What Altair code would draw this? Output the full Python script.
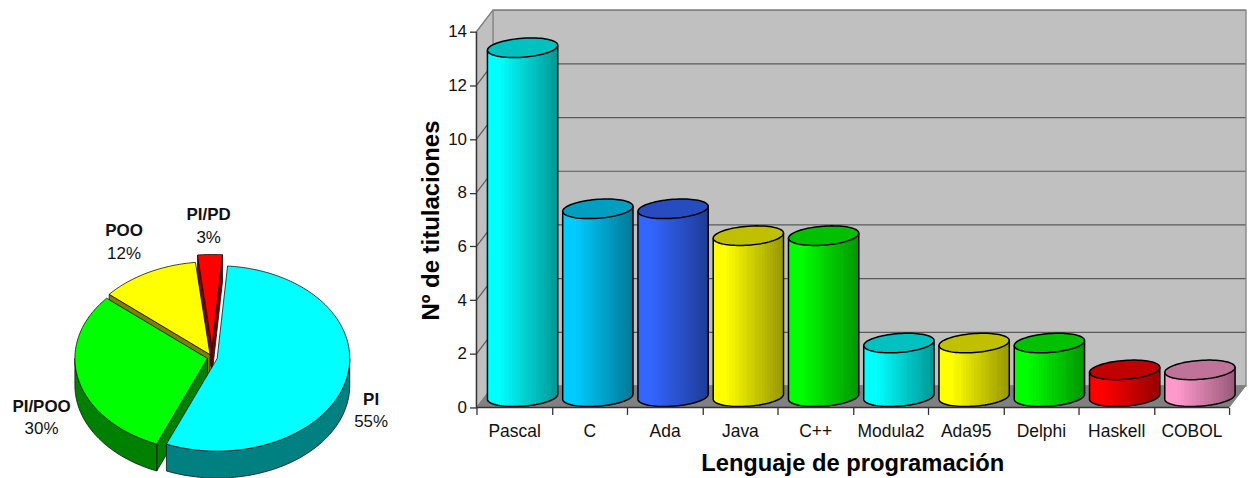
import math
import altair as alt
import pandas as pd

# ---- data ----
languages = ["Pascal", "C", "Ada", "Java", "C++", "Modula2", "Ada95", "Delphi", "Haskell", "COBOL"]
degrees = [13, 7, 7, 6, 6, 2, 2, 2, 1, 1]
side_colors = ["#00FFFF", "#00CCFF", "#3366FF", "#FFFF00", "#00FF00",
               "#00FFFF", "#FFFF00", "#00FF00", "#FF0000", "#FF99CC"]
cap_colors = ["#00C0C0", "#009EC0", "#264CBF", "#C0C000", "#00C000",
              "#00C0C0", "#C0C000", "#00C000", "#C00000", "#BF7399"]

paradigms = ["PI", "PI/POO", "POO", "PI/PD"]
shares = [55, 30, 12, 3]
top_colors = ["#00FFFF", "#00FF00", "#FFFF00", "#FF0000"]
wall_colors = ["#008080", "#008000", "#808000", "#800000"]
explode = [5, 5, 5, 15]

FONT = "Liberation Sans"

# ---- 3D column panel, in axis units ----
DX, DY = 0.2185, 0.8          # depth of the box
XMAX, YMAX = 10.225, 14.816
RAD_X, RAD_Y, SLANT = 0.467, 0.353, 0.093
CENTER = 0.6126
LIFT = 0.4

x_scale = alt.Scale(domain=[0, XMAX], nice=False, zero=False)
y_scale = alt.Scale(domain=[0, YMAX], nice=False, zero=False)


def arc(cx, cy, lower=True, n=40):
    """Front or back half of a slightly slanted cylinder end."""
    sign = -1 if lower else 1
    pts = []
    for i in range(n + 1):
        u = -math.cos(math.pi * i / n)
        pts.append((cx + RAD_X * u, cy + SLANT * u + sign * RAD_Y * math.sqrt(max(0, 1 - u * u))))
    return pts


def darker(hex_color, f):
    rgb = [int(hex_color[i:i + 2], 16) for i in (1, 3, 5)]
    return "#%02x%02x%02x" % tuple(int(c * f) for c in rgb)


def shaded(base, bands=26):
    stops = []
    for b in range(bands):
        t = b / bands
        f = 1 if t < 0.16 else 1 - (t - 0.16) / 0.84 * 0.42
        color = darker(base, f)
        stops.append(alt.GradientStop(offset=t, color=color))
        stops.append(alt.GradientStop(offset=(b + 1) / bands, color=color))
    return alt.LinearGradient(gradient="linear", x1=0, x2=1, y1=0, y2=0, stops=stops)


X = alt.X("x:Q", scale=x_scale,
          axis=alt.Axis(values=[v / 2 for v in range(21)], domain=False, grid=False, tickSize=7,
                        tickColor="#333333", tickWidth=1.3,
                        tickOpacity={"condition": {"test": "datum.value % 1 === 0", "value": 1}, "value": 0},
                        labelExpr="datum.value % 1 === 0 ? '' : " + str(languages) + "[floor(datum.value)]",
                        labelOverlap=False, labelFont=FONT, labelFontSize=17.5, labelColor="#111111",
                        labelPadding=8, labelAngle=0, labelFlush=False,
                        title="Lenguaje de programación", titleFont=FONT, titleFontSize=23.8,
                        titleFontWeight="bold", titleColor="#000000", titleX=377, titleY=44))
Y = alt.Y("y:Q", scale=y_scale,
          axis=alt.Axis(values=list(range(0, 15, 2)), domain=False, grid=False, tickSize=7,
                        tickColor="#333333", tickWidth=1.3, labelFont=FONT, labelFontSize=17,
                        labelColor="#111111", labelPadding=3,
                        title="Nº de titulaciones", titleFont=FONT, titleFontSize=24,
                        titleFontWeight="bold", titleColor="#000000", titleX=-33, titleY=211))


wall = pd.DataFrame({"x": [DX], "x2": [XMAX], "y": [DY], "y2": [14 + DY]})
side = pd.DataFrame({"x": [0, DX], "y": [0, DY], "y2": [14, 14 + DY]})
floor = pd.DataFrame({"x": [0, DX, 10, 10 + DX], "y": [0, DY, DY, DY], "y2": [0, 0, 0, DY]})

grid_rows = []
for level in range(2, 15, 2):
    for px, py in [(0, level), (DX, level + DY), (10 + DX, level + DY)]:
        grid_rows.append({"x": px, "y": py, "level": level})
grid = pd.DataFrame(grid_rows)

layers = [
    alt.Chart(wall).mark_rect(fill="#C0C0C0", stroke="#808080", strokeWidth=1.3).encode(
        x=X, x2="x2:Q", y=Y, y2="y2:Q"),
    alt.Chart(side).mark_area(fill="#C0C0C0", stroke="#808080", strokeWidth=1).encode(
        x=X, y=Y, y2="y2:Q"),
    alt.Chart(floor).mark_area(fill="#808080", stroke="#808080", strokeWidth=1).encode(
        x=X, y=Y, y2="y2:Q"),
    alt.Chart(grid[grid.level < 14]).mark_line(color="#5A5A5A", strokeWidth=1.2).encode(
        x=X, y=Y, detail="level:N"),
    alt.Chart(grid[grid.level == 14]).mark_line(color="#808080", strokeWidth=1.5).encode(
        x=X, y=Y, detail="level:N"),
]

for i, value in enumerate(degrees):
    cx = i + CENTER
    top_lo = arc(cx, value + LIFT, True)
    top_hi = arc(cx, value + LIFT, False)
    base_lo = arc(cx, LIFT, True)
    body = pd.DataFrame({"x": [p[0] for p in top_lo], "y": [p[1] for p in top_lo],
                         "y2": [p[1] for p in base_lo]})
    cap = pd.DataFrame({"x": [p[0] for p in top_hi], "y": [p[1] for p in top_hi],
                        "y2": [p[1] for p in top_lo]})
    outline_pts = base_lo + top_hi[::-1] + base_lo[:1]
    outline = pd.DataFrame({"x": [p[0] for p in outline_pts], "y": [p[1] for p in outline_pts],
                            "k": range(len(outline_pts))})
    rim_line = pd.DataFrame({"x": [p[0] for p in top_lo], "y": [p[1] for p in top_lo],
                             "k": range(len(top_lo))})
    layers += [
        alt.Chart(body).mark_area(fill=shaded(side_colors[i]), opacity=1).encode(
            x=X, y=Y, y2="y2:Q"),
        alt.Chart(cap).mark_area(fill=cap_colors[i]).encode(
            x=X, y=Y, y2="y2:Q"),
        alt.Chart(outline).mark_line(color="#000000", strokeWidth=1.5).encode(
            x=X, y=Y, order="k:Q"),
        alt.Chart(rim_line).mark_line(color="#000000", strokeWidth=1.5).encode(
            x=X, y=Y, order="k:Q"),
    ]

axis_lines = pd.DataFrame({"x": [0, 0, 10], "y": [14, 0, 0], "k": [0, 1, 2]})
layers.append(alt.Chart(axis_lines).mark_line(color="#333333", strokeWidth=1.5).encode(
    x=X, y=Y, order="k:Q"))

columns = alt.layer(*layers).properties(width=772, height=399)

# ---- exploded 3D pie, planar coordinates with y pointing down ----
PIE_X, PIE_Y = 213, 349
RX, RY, DEPTH = 133, 93, 27
START = 4.5
LABEL_RX, LABEL_RY, LABEL_SHIFT = 170, 133, -6
label_nudge = {"PI": (0, -5), "PI/POO": (0, 2), "POO": (-3, 2), "PI/PD": (5, 1)}


def feature(ring, fill):
    ring = [[round(a, 2), round(b, 2)] for a, b in ring]
    ring.append(ring[0])
    return {"type": "Feature", "properties": {"fill": fill},
            "geometry": {"type": "Polygon", "coordinates": [ring]}}


def pie_features():
    out = []
    # painted from the back of the pie to the front
    for idx in [3, 2, 1, 0]:
        a0, a1 = spans[idx]
        mid = math.radians((a0 + a1) / 2)
        ax = PIE_X + explode[idx] * math.sin(mid)
        ay = PIE_Y - explode[idx] * RY / RX * math.cos(mid)

        def rim(deg):
            r = math.radians(deg)
            return (ax + RX * math.sin(r), ay - RY * math.cos(r))

        mx, my = rim((a0 + a1) / 2)
        for edge in (a0, a1):
            ex, ey = rim(edge)
            inner = (ex - ax) * (my - ay) - (ey - ay) * (mx - ax)
            if inner * (ex - ax) < 0:
                out.append(feature([(ax, ay), (ex, ey), (ex, ey + DEPTH), (ax, ay + DEPTH)],
                                   wall_colors[idx]))
        lo, hi = max(a0, 90), min(a1, 270)
        if hi > lo:
            degs = [lo + (hi - lo) * k / 60 for k in range(61)]
            upper = [rim(d) for d in degs]
            lower = [(p[0], p[1] + DEPTH) for p in upper[::-1]]
            out.append(feature(upper + lower, wall_colors[idx]))
        steps = max(4, int(a1 - a0))
        out.append(feature([(ax, ay)] + [rim(a0 + (a1 - a0) * k / steps) for k in range(steps + 1)],
                           top_colors[idx]))
    return out


spans = []
angle = START
for share in shares:
    spans.append((angle, angle + share * 3.6))
    angle += share * 3.6

labels = []
for idx, name in enumerate(paradigms):
    a0, a1 = spans[idx]
    mid = math.radians((a0 + a1) / 2)
    drop = DEPTH if math.cos(mid) < 0 else 0
    nx, ny = label_nudge[name]
    labels.append({"lon": PIE_X + LABEL_SHIFT + nx + LABEL_RX * math.sin(mid),
                   "lat": PIE_Y - LABEL_RY * math.cos(mid) + drop + ny,
                   "name": name, "pct": f"{shares[idx]}%"})

label_data = pd.DataFrame(labels)

pie = alt.layer(
    alt.Chart(alt.InlineData(values=pie_features())).mark_geoshape(
        stroke="#111111", strokeWidth=0.8, clip=False).encode(
        color=alt.Color("properties.fill:N", scale=None)),
    alt.Chart(label_data).mark_text(font=FONT, fontSize=17, fontWeight="bold", dy=-11, color="#111111",
                                    clip=False).encode(
        longitude="lon:Q", latitude="lat:Q", text="name:N"),
    alt.Chart(label_data).mark_text(font=FONT, fontSize=17, dy=12, color="#111111", clip=False).encode(
        longitude="lon:Q", latitude="lat:Q", text="pct:N"),
).project(type="identity", scale=1, translate=[0, 0]).properties(width=421, height=470)

chart = alt.hconcat(pie, columns, spacing=0).properties(
    padding={"left": 0, "top": 6, "right": 0, "bottom": 0}, background="#FFFFFF"
).configure_view(stroke=None)

chart.save("out.html", embed_options={"renderer": "svg", "actions": False})
